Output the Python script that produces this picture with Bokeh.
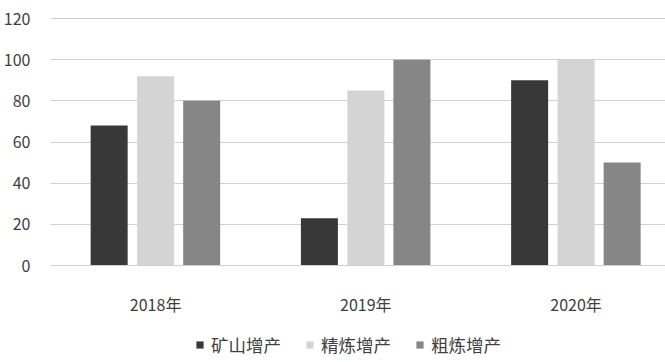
from bokeh.plotting import figure
from bokeh.models import Range1d, FixedTicker, Legend, LegendItem, ColumnDataSource
from bokeh.embed import file_html
from bokeh.resources import INLINE

years = ["2018年", "2019年", "2020年"]
series_names = ["矿山增产", "精炼增产", "粗炼增产"]
mine = [68, 23, 90]
refined = [92, 85, 100]
crude = [80, 100, 50]
y_ticks = [0, 20, 40, 60, 80, 100, 120]
colors = ["#383838", "#d4d4d4", "#868686"]

FONT = "Noto Sans CJK SC"

p = figure(frame_width=616, frame_height=350, output_backend="svg", toolbar_location=None,
           x_range=Range1d(0, 2.93), y_range=Range1d(-46.15, 123.9),
           min_border_left=41, min_border_right=0, min_border_top=10, min_border_bottom=0)
p.outline_line_color = None

centers = [i + 0.5 for i in range(len(years))]
offsets = [-0.221, 0.0, 0.219]
bar_w = 0.176
renderers = []
for vals, off, col in zip([mine, refined, crude], offsets, colors):
    src = ColumnDataSource(dict(x=[c + off for c in centers], top=vals))
    r = p.vbar(x="x", top="top", width=bar_w, bottom=0, source=src,
               fill_color=col, line_color=None)
    renderers.append(r)

p.yaxis.ticker = FixedTicker(ticks=y_ticks)
p.xaxis.ticker = FixedTicker(ticks=centers)
p.xaxis.major_label_overrides = {c: y for c, y in zip(centers, years)}
p.xaxis.fixed_location = 0
p.xgrid.visible = False
p.ygrid.ticker = FixedTicker(ticks=y_ticks)
p.ygrid.grid_line_color = "#d0d0d0"
p.ygrid.grid_line_width = 1

for ax in (p.xaxis, p.yaxis):
    ax.major_tick_line_color = None
    ax.minor_tick_line_color = None
    ax.major_label_text_font = FONT
    ax.major_label_text_font_size = "16px"
    ax.major_label_text_color = "#404040"
p.yaxis.axis_line_color = None
p.xaxis.axis_line_color = "#d0d0d0"
p.yaxis.major_label_standoff = 14
p.xaxis.major_label_standoff = 20

legend = Legend(items=[LegendItem(label=n, renderers=[r]) for n, r in zip(series_names, renderers)],
                orientation="horizontal", location=(145, 3),
                label_text_font=FONT, label_text_font_size="17.5px", label_text_color="#404040",
                glyph_width=9, glyph_height=9, label_standoff=7, spacing=24,
                border_line_color=None, background_fill_alpha=0, margin=0, padding=0)
p.add_layout(legend, "center")

open("out.html", "w").write(file_html(p, INLINE))
